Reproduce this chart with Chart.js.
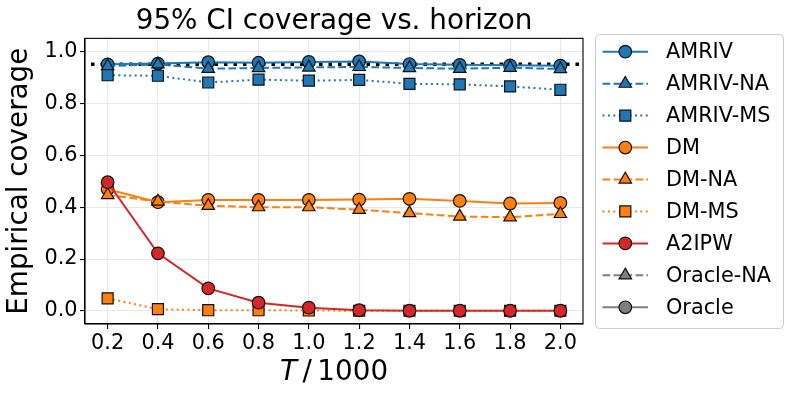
<!DOCTYPE html>
<html>
<head>
<meta charset="utf-8">
<script src="https://cdn.jsdelivr.net/npm/chart.js@4.4.1/dist/chart.umd.min.js"></script>
<style>
  body { margin: 0; background: #fff; }
</style>
</head>
<body>
<canvas id="grafico" width="794" height="396"></canvas>
<script>
// Datos
const horizontes = [0.2, 0.4, 0.6, 0.8, 1.0, 1.2, 1.4, 1.6, 1.8, 2.0];
const xTicks = [0.2, 0.4, 0.6, 0.8, 1.0, 1.2, 1.4, 1.6, 1.8, 2.0];
const yTicks = [0.0, 0.2, 0.4, 0.6, 0.8, 1.0];
const nivelNominal = 0.95;

const amriv   = [0.950, 0.953, 0.958, 0.956, 0.959, 0.961, 0.951, 0.948, 0.946, 0.945];
const amrivNA = [0.943, 0.950, 0.933, 0.936, 0.938, 0.940, 0.936, 0.933, 0.937, 0.932];
const amrivMS = [0.908, 0.906, 0.880, 0.891, 0.887, 0.890, 0.875, 0.873, 0.865, 0.852];
const dm      = [0.469, 0.419, 0.428, 0.428, 0.428, 0.429, 0.432, 0.424, 0.414, 0.416];
const dmNA    = [0.447, 0.422, 0.405, 0.400, 0.400, 0.390, 0.377, 0.364, 0.361, 0.374];
const dmMS    = [0.049, 0.007, 0.003, 0.003, 0.002, 0.001, 0.001, 0.001, 0.001, 0.001];
const a2ipw   = [0.496, 0.222, 0.087, 0.032, 0.013, 0.003, 0.001, 0.001, 0.001, 0.001];
const oracleNA = [];
const oracle   = [];

const AZUL = '#1f77b4', NARANJA = '#ff7f0e', ROJO = '#d62728', GRIS = '#7f7f7f';
const FUENTE = "'DejaVu Sans', sans-serif";

const series = [
    { label: 'AMRIV',     data: amriv,    color: AZUL,    dash: [],       marca: 'circle',   r: 6.3 },
    { label: 'AMRIV-NA',  data: amrivNA,  color: AZUL,    dash: [7.7, 3.3], marca: 'triangle', r: 7.2 },
    { label: 'AMRIV-MS',  data: amrivMS,  color: AZUL,    dash: [2, 3.4], marca: 'rect',     r: 7.8 },
    { label: 'DM',        data: dm,       color: NARANJA, dash: [],       marca: 'circle',   r: 6.3 },
    { label: 'DM-NA',     data: dmNA,     color: NARANJA, dash: [7.7, 3.3], marca: 'triangle', r: 7.2 },
    { label: 'DM-MS',     data: dmMS,     color: NARANJA, dash: [2, 3.4], marca: 'rect',     r: 7.8 },
    { label: 'A2IPW',     data: a2ipw,    color: ROJO,    dash: [],       marca: 'circle',   r: 6.3 },
    { label: 'Oracle-NA', data: oracleNA, color: GRIS,    dash: [7.7, 3.3], marca: 'triangle', r: 7.2 },
    { label: 'Oracle',    data: oracle,   color: GRIS,    dash: [],       marca: 'circle',   r: 6.3 }
];

const datasets = series.map((s, i) => ({
    label: s.label,
    data: s.data.map((v, j) => ({ x: horizontes[j], y: v })),
    borderColor: s.color,
    backgroundColor: s.color,
    borderWidth: 2,
    borderDash: s.dash,
    pointStyle: s.marca,
    pointRadius: s.r,
    pointBackgroundColor: s.color,
    pointBorderColor: '#111',
    pointBorderWidth: 1.2,
    tension: 0,
    order: series.length - i
}));

// dibuja una marca con la misma geometria que Chart.js
function marca(ctx, tipo, x, y, r) {
    ctx.beginPath();
    if (tipo === 'circle') {
        ctx.arc(x, y, r, 0, Math.PI * 2);
    } else if (tipo === 'triangle') {
        let a = 0;
        ctx.moveTo(x + Math.sin(a) * r, y - Math.cos(a) * r);
        a += 2 * Math.PI / 3;
        ctx.lineTo(x + Math.sin(a) * r, y - Math.cos(a) * r);
        a += 2 * Math.PI / 3;
        ctx.lineTo(x + Math.sin(a) * r, y - Math.cos(a) * r);
        ctx.closePath();
    } else {
        const t = r * Math.SQRT1_2;
        ctx.rect(x - t, y - t, 2 * t, 2 * t);
    }
    ctx.fill();
    ctx.stroke();
}

// linea de referencia 0.95
const referencia = {
    id: 'referencia',
    beforeDatasetsDraw(chart) {
        const { ctx, chartArea } = chart;
        const y = chart.scales.y.getPixelForValue(nivelNominal);
        ctx.save();
        ctx.strokeStyle = '#000';
        ctx.lineWidth = 3.5;
        ctx.setLineDash([3.5, 6]);
        ctx.beginPath();
        ctx.moveTo(chartArea.left + 6, y);
        ctx.lineTo(chartArea.right, y);
        ctx.stroke();
        ctx.restore();
    }
};

// marco y titulo del eje x
const marco = {
    id: 'marco',
    afterDatasetsDraw(chart) {
        const { ctx, chartArea } = chart;
        ctx.save();
        ctx.strokeStyle = '#000';
        ctx.lineWidth = 1.1;
        ctx.strokeRect(chartArea.left, chartArea.top, chartArea.right - chartArea.left, chartArea.bottom - chartArea.top);

        // "T / 1000" con T en cursiva
        ctx.fillStyle = '#000';
        ctx.textBaseline = 'alphabetic';
        const fItal = "oblique 27.8px " + FUENTE;
        const fNorm = "27.8px " + FUENTE;
        ctx.font = fItal;
        const wT = ctx.measureText('T').width;
        ctx.font = fNorm;
        const resto = '\u2009/\u20091000';
        const wR = ctx.measureText(resto).width;
        const cx = (chartArea.left + chartArea.right) / 2;
        const x0 = cx - (wT + wR) / 2;
        ctx.font = fItal;
        ctx.fillText('T', x0, 380);
        ctx.font = fNorm;
        ctx.fillText(resto, x0 + wT, 380);
        ctx.restore();
    }
};

// leyenda con linea y marca
const leyenda = {
    id: 'leyenda',
    afterDraw(chart) {
        const ctx = chart.ctx;
        ctx.save();
        ctx.fillStyle = 'rgba(255,255,255,0.8)';
        ctx.strokeStyle = '#cccccc';
        ctx.lineWidth = 1;
        ctx.beginPath();
        ctx.roundRect(595.5, 34.5, 188, 294, 4);
        ctx.fill();
        ctx.stroke();

        series.forEach((s, i) => {
            const y = 51.7 + i * 31.95;
            ctx.strokeStyle = s.color;
            ctx.lineWidth = 2;
            ctx.setLineDash(s.dash);
            ctx.beginPath();
            ctx.moveTo(602.5, y);
            ctx.lineTo(648, y);
            ctx.stroke();
            ctx.setLineDash([]);
            ctx.fillStyle = s.color;
            ctx.strokeStyle = '#111';
            ctx.lineWidth = 1.2;
            marca(ctx, s.marca, 625.3, y, s.r);

            ctx.fillStyle = '#000';
            ctx.font = "20.8px " + FUENTE;
            ctx.textBaseline = 'middle';
            ctx.fillText(s.label, 666, y + 1);
        });
        ctx.restore();
    }
};

Chart.defaults.color = '#000';
Chart.defaults.font.family = FUENTE;

new Chart(document.getElementById('grafico').getContext('2d'), {
    type: 'line',
    data: { datasets },
    options: {
        responsive: false,
        animation: false,
        layout: { padding: { left: 0, right: 211, top: 0, bottom: 0 } },
        plugins: {
            legend: { display: false },
            tooltip: { enabled: false },
            title: {
                display: true,
                text: '95% CI coverage vs. horizon',
                fullSize: false,
                color: '#000',
                font: { size: 27.8, weight: 'normal', family: FUENTE, lineHeight: 1.2 },
                padding: { top: 5, bottom: 0 }
            }
        },
        scales: {
            x: {
                type: 'linear',
                min: 0.11,
                max: 2.09,
                afterBuildTicks: s => { s.ticks = xTicks.map(v => ({ value: v })); },
                afterFit: s => { s.height = 72; },
                ticks: {
                    font: { size: 20.8, family: FUENTE },
                    color: '#000',
                    padding: 2,
                    maxRotation: 0,
                    autoSkip: false,
                    callback: v => Number(v).toFixed(1)
                },
                grid: { color: '#e8e8e8', tickColor: '#000', tickLength: 5, lineWidth: 1.1 },
                border: { color: '#000', width: 1.1 }
            },
            y: {
                min: -0.05,
                max: 1.05,
                afterBuildTicks: s => { s.ticks = yTicks.map(v => ({ value: v })); },
                afterFit: s => { s.width = 85; },
                ticks: {
                    font: { size: 20.8, family: FUENTE },
                    color: '#000',
                    padding: 2.5,
                    callback: v => Number(v).toFixed(1)
                },
                grid: { color: '#e8e8e8', tickColor: '#000', tickLength: 5, lineWidth: 1.1 },
                border: { color: '#000', width: 1.1 },
                title: {
                    display: true,
                    text: 'Empirical coverage',
                    color: '#000',
                    font: { size: 27.8, family: FUENTE, lineHeight: 1.2 },
                    padding: { top: 3.3, bottom: 0 }
                }
            }
        }
    },
    plugins: [referencia, marco, leyenda]
});
</script>
</body>
</html>
